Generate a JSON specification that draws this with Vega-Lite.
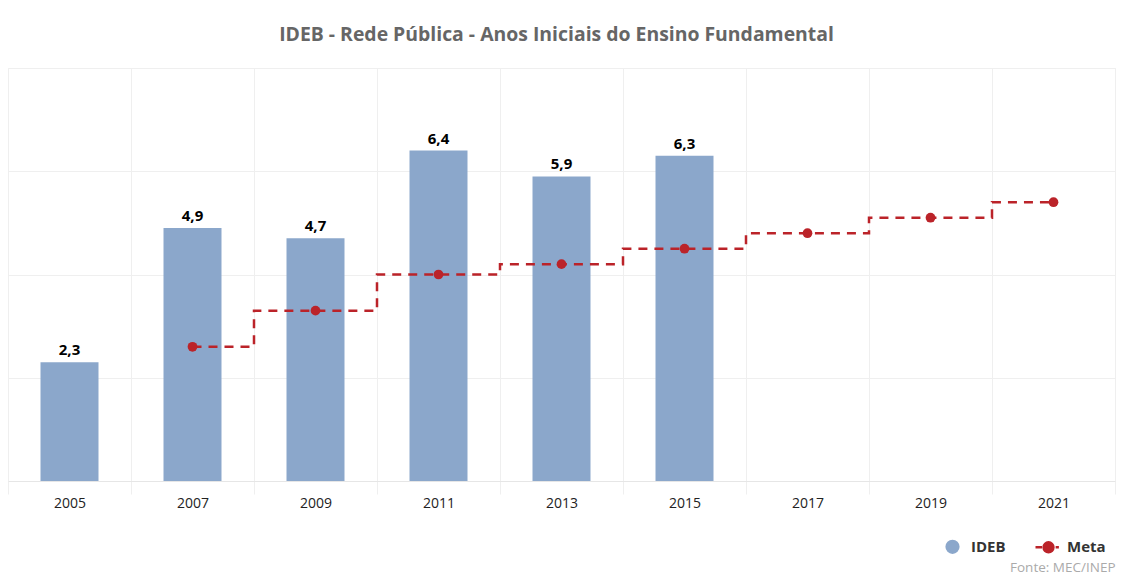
{
  "$schema": "https://vega.github.io/schema/vega-lite/v6.json",
  "autosize": {"type": "none"},
  "width": 1107,
  "height": 413,
  "padding": {"left": 8, "top": 68, "right": 17, "bottom": 94},
  "background": "white",
  "title": {
    "text": "IDEB - Rede Pública - Anos Iniciais do Ensino Fundamental",
    "font": "Open Sans",
    "fontSize": 19.4,
    "fontWeight": "bold",
    "color": "#666666",
    "anchor": "middle",
    "baseline": "alphabetic",
    "offset": 8,
    "dx": -5
  },
  "config": {
    "locale": {"number": {"decimal": ",", "thousands": ".", "grouping": [3], "currency": ["R$", ""]}},
    "view": {"stroke": "#efefef", "strokeWidth": 1},
    "font": "Open Sans"
  },
  "data": {
    "values": [
      {"ano": "2005", "ideb": 2.3, "meta": null},
      {"ano": "2007", "ideb": 4.9, "meta": 2.6},
      {"ano": "2009", "ideb": 4.7, "meta": 3.3},
      {"ano": "2011", "ideb": 6.4, "meta": 4.0},
      {"ano": "2013", "ideb": 5.9, "meta": 4.2},
      {"ano": "2015", "ideb": 6.3, "meta": 4.5},
      {"ano": "2017", "ideb": null, "meta": 4.8},
      {"ano": "2019", "ideb": null, "meta": 5.1},
      {"ano": "2021", "ideb": null, "meta": 5.4}
    ]
  },
  "encoding": {
    "x": {
      "field": "ano",
      "type": "ordinal",
      "scale": {"paddingInner": 0, "paddingOuter": 0},
      "axis": {
        "title": "Fonte: MEC/INEP",
        "titleFont": "Open Sans",
        "titleFontSize": 13.5,
        "titleFontWeight": "normal",
        "titleColor": "#aaaaaa",
        "titleAnchor": "end",
        "titleAlign": "right",
        "titleBaseline": "alphabetic",
        "titleX": 1107,
        "titleY": 90,
        "labelAngle": 0,
        "labelFont": "Open Sans",
        "labelFontSize": 14,
        "labelColor": "#222222",
        "labelPadding": 2,
        "bandPosition": 0,
        "grid": true,
        "gridColor": "#efefef",
        "ticks": true,
        "tickSize": 13,
        "tickColor": "#efefef",
        "tickBand": "extent",
        "domainColor": "#e6e6e6"
      }
    }
  },
  "layer": [
    {
      "mark": {"type": "bar", "size": 58},
      "encoding": {
        "y": {
          "field": "ideb",
          "type": "quantitative",
          "scale": {"domain": [0, 8], "nice": false},
          "axis": {"title": null, "labels": false, "ticks": false, "domain": false, "values": [0, 2, 4, 6, 8], "gridColor": "#efefef"}
        },
        "color": {
          "datum": "IDEB",
          "type": "nominal",
          "scale": {"domain": ["IDEB", "Meta"], "range": ["#8ba7cb", "#bb2329"]},
          "legend": {
            "title": null,
            "orient": "none",
            "legendX": 930,
            "legendY": 464,
            "direction": "horizontal",
            "columns": 2,
            "columnPadding": 24,
            "symbolSize": 676,
            "symbolStrokeWidth": 2.5,
            "labelFont": "Open Sans",
            "labelFontSize": 15,
            "labelFontWeight": "bold",
            "labelColor": "#333333",
            "labelOffset": 4,
            "encode": {
              "symbols": {
                "update": {
                  "shape": {"signal": "datum.value === 'Meta' ? 'M-1,0L-0.5,0M0.55,0L0.8,0M-0.38,0A0.38,0.38,0,1,1,0.38,0A0.38,0.38,0,1,1,-0.38,0Z' : 'M-0.45,0A0.45,0.45,0,1,1,0.45,0A0.45,0.45,0,1,1,-0.45,0Z'"},
                  "fill": {"signal": "scale('color', datum.value)"},
                  "stroke": {"signal": "scale('color', datum.value)"},
                  "strokeWidth": {"value": 2.5},
                  "opacity": {"value": 1},
                  "fillOpacity": {"value": 1}
                }
              }
            }
          }
        }
      }
    },
    {
      "mark": {"type": "text", "baseline": "bottom", "dy": -4, "font": "Open Sans", "fontSize": 15, "fontWeight": "bold", "color": "#000000"},
      "encoding": {
        "y": {"field": "ideb", "type": "quantitative"},
        "text": {"field": "ideb", "type": "quantitative", "format": ".1f"}
      }
    },
    {
      "transform": [{"filter": "datum.meta != null"}],
      "mark": {"type": "line", "interpolate": "step", "strokeDash": [9, 7], "strokeWidth": 2.5},
      "encoding": {
        "y": {"field": "meta", "type": "quantitative"},
        "color": {"datum": "Meta", "type": "nominal"}
      }
    },
    {
      "transform": [{"filter": "datum.meta != null"}],
      "mark": {"type": "point", "filled": true, "size": 95, "opacity": 1},
      "encoding": {
        "y": {"field": "meta", "type": "quantitative"},
        "color": {"datum": "Meta", "type": "nominal"}
      }
    }
  ]
}
